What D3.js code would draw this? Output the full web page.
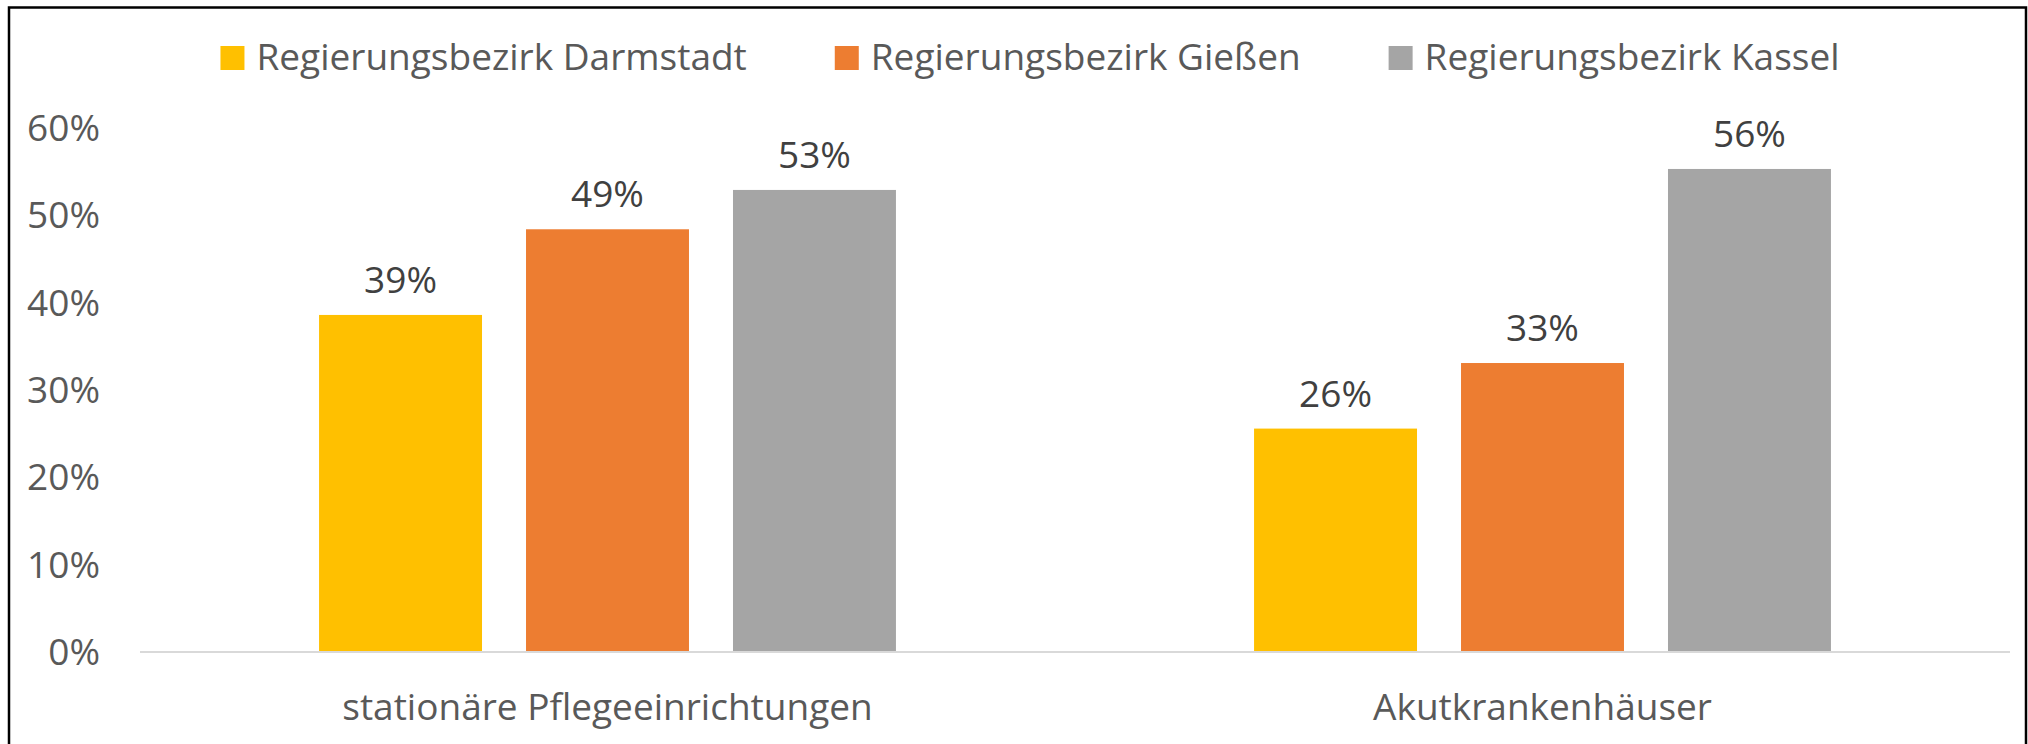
<!DOCTYPE html>
<html>
<head>
<meta charset="utf-8">
<script src="https://cdn.jsdelivr.net/npm/d3@7"></script>
<style>
  body { margin: 0; background: #fff; }
  text { font-family: "Open Sans", sans-serif; }
</style>
</head>
<body>
<svg class="chart"></svg>
<script>
const width = 2028
const height = 744

const categories = ["stationäre Pflegeeinrichtungen", "Akutkrankenhäuser"]
const seriesNames = ["Regierungsbezirk Darmstadt", "Regierungsbezirk Gießen", "Regierungsbezirk Kassel"]
const darmstadt = [0.385, 0.255]
const giessen = [0.483, 0.330]
const kassel = [0.528, 0.552]
const labels = [["39%", "26%"], ["49%", "33%"], ["53%", "56%"]]
const yTicks = [0, 0.1, 0.2, 0.3, 0.4, 0.5, 0.6]
const colors = ["#FFC000", "#ED7D31", "#A5A5A5"]

const values = [darmstadt, giessen, kassel]

const svg = d3.select("svg.chart")
    .attr("width", width)
    .attr("height", height)

// outer frame (bottom edge is cut off in the original)
svg.append("path")
    .attr("d", "M9,760 V7.5 H2026 V760")
    .attr("fill", "none")
    .attr("stroke", "#000")
    .attr("stroke-width", 2.5)

const x0 = d3.scaleBand()
    .domain(categories)
    .range([140, 2010])
    .paddingInner(0.383)
    .paddingOuter(0.1915)

const x1 = d3.scaleBand()
    .domain(seriesNames)
    .range([0, x0.bandwidth()])
    .paddingInner(0.2126)

const y = d3.scaleLinear()
    .domain([0, 0.6])
    .range([651.5, 127])

// y axis labels
const yAxis = svg.append("g")
    .attr("transform", "translate(100,0)")
    .call(d3.axisLeft(y).tickValues(yTicks).tickFormat(d3.format(".0%")).tickSize(0).tickPadding(0))
yAxis.select(".domain").remove()
yAxis.selectAll("text")
    .attr("font-family", "Open Sans")
    .attr("font-size", 37)
    .attr("fill", "#595959")
    .attr("dy", "0.36em")

// bars
const groups = svg.append("g")
    .selectAll("g")
    .data(seriesNames)
    .join("g")
    .attr("fill", (d, i) => colors[i])

groups.selectAll("rect")
    .data((s, i) => categories.map((c, j) => ({ c: c, s: s, v: values[i][j], label: labels[i][j] })))
    .join("rect")
    .attr("x", d => x0(d.c) + x1(d.s))
    .attr("y", d => y(d.v))
    .attr("width", x1.bandwidth())
    .attr("height", d => y(0) - y(d.v))

// data labels
groups.selectAll("text")
    .data((s, i) => categories.map((c, j) => ({ c: c, s: s, v: values[i][j], label: labels[i][j] })))
    .join("text")
    .attr("x", d => x0(d.c) + x1(d.s) + x1.bandwidth() / 2)
    .attr("y", d => y(d.v) - 22)
    .attr("text-anchor", "middle")
    .attr("font-size", 37)
    .attr("fill", "#404040")
    .text(d => d.label)

// baseline
svg.append("line")
    .attr("x1", 140)
    .attr("x2", 2010)
    .attr("y1", y(0) + 0.5)
    .attr("y2", y(0) + 0.5)
    .attr("stroke", "#D9D9D9")
    .attr("stroke-width", 2)

// category labels
const xAxis = svg.append("g")
    .attr("transform", `translate(0,${y(0)})`)
    .call(d3.axisBottom(x0).tickSize(0).tickPadding(0))
xAxis.select(".domain").remove()
xAxis.selectAll("text")
    .attr("font-family", "Open Sans")
    .attr("font-size", 37)
    .attr("fill", "#595959")
    .attr("dy", null)
    .attr("y", 68)

// legend
const legend = svg.append("g")
const items = legend.selectAll("g")
    .data(seriesNames)
    .join("g")

items.append("rect")
    .attr("y", 46)
    .attr("width", 24)
    .attr("height", 24)
    .attr("fill", (d, i) => colors[i])

items.append("text")
    .attr("x", 36)
    .attr("y", 70)
    .attr("font-size", 37)
    .attr("fill", "#595959")
    .text(d => d)

let cursor = 0
const widths = []
items.each(function () {
    const w = 36 + d3.select(this).select("text").node().getComputedTextLength()
    widths.push(w)
})
const total = d3.sum(widths) + 88 * (widths.length - 1)
cursor = 1030 - total / 2
items.attr("transform", (d, i) => {
    const t = `translate(${cursor},0)`
    cursor += widths[i] + 88
    return t
})
</script>
</body>
</html>
